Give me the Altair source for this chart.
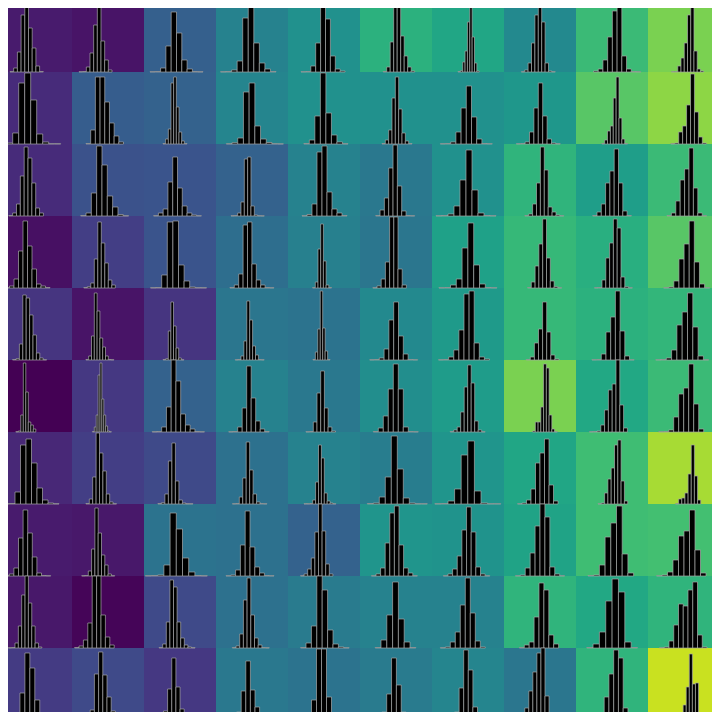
import altair as alt
import pandas as pd

# shared axis limits of every small panel (x in data units, y in count units)
XMIN, XMAX = 0.0, 72.0
YMAX = 72.0
NROWS, NCOLS = 10, 10
# the page keeps an 8px margin: the view shows the grid from 8/72 to 712/72 of a cell
GRID_START = 8.0 / 72.0
GRID_END = 712.0 / 72.0

# colour value of each panel (0..1 on viridis)
SHADE = [
    [0.07, 0.05, 0.30, 0.44, 0.50, 0.64, 0.59, 0.47, 0.68, 0.80],
    [0.12, 0.29, 0.31, 0.45, 0.50, 0.50, 0.50, 0.53, 0.74, 0.83],
    [0.12, 0.25, 0.26, 0.31, 0.44, 0.40, 0.50, 0.65, 0.56, 0.68],
    [0.04, 0.18, 0.26, 0.36, 0.43, 0.39, 0.57, 0.67, 0.63, 0.74],
    [0.15, 0.05, 0.15, 0.39, 0.38, 0.47, 0.54, 0.67, 0.64, 0.66],
    [0.00, 0.16, 0.31, 0.44, 0.40, 0.49, 0.55, 0.80, 0.60, 0.68],
    [0.11, 0.18, 0.22, 0.37, 0.44, 0.42, 0.52, 0.59, 0.69, 0.87],
    [0.07, 0.06, 0.38, 0.37, 0.31, 0.52, 0.51, 0.58, 0.69, 0.70],
    [0.06, 0.01, 0.22, 0.37, 0.41, 0.44, 0.44, 0.65, 0.60, 0.65],
    [0.17, 0.22, 0.16, 0.40, 0.38, 0.41, 0.45, 0.39, 0.65, 0.92],
]

# left edge of the first bin of each histogram
LO = [
    [10.0, 7.0, 6.0, 4.5, 13.0, 23.2, 26.0, 17.3, 17.5, 23.3],
    [0.7, 14.0, 19.0, 10.3, 15.8, 22.0, 8.3, 12.3, 25.8, 22.8],
    [8.8, 8.7, 9.6, 15.0, 14.0, 15.7, 4.0, 20.8, 16.7, 19.0],
    [5.0, 11.8, 6.5, 13.9, 24.6, 12.8, 6.9, 23.5, 18.4, 15.6],
    [12.6, 13.9, 19.1, 19.2, 24.9, 9.7, 6.5, 22.2, 15.9, 7.7],
    [15.8, 20.4, 8.2, 12.7, 17.9, 13.3, 18.2, 28.6, 13.4, 10.7],
    [4.0, 13.9, 13.9, 16.4, 16.0, 7.3, 2.8, 13.5, 22.0, 27.5],
    [4.7, 9.7, 1.3, 10.0, 12.5, 11.4, 11.3, 11.4, 12.0, 8.5],
    [8.3, 2.6, 15.1, 16.3, 12.6, 15.2, 8.3, 15.4, 10.7, 11.5],
    [5.1, 9.8, 7.0, 11.4, 8.5, 7.3, 8.7, 12.65, 13.95, 25.9],
]

# right edge of the last bin of each histogram
HI = [
    [43.3, 40.0, 59.0, 60.0, 57.1, 54.7, 47.2, 51.3, 64.7, 55.7],
    [60.7, 51.5, 43.0, 67.4, 60.0, 52.0, 60.3, 56.3, 51.6, 58.3],
    [43.4, 56.6, 57.4, 48.3, 59.0, 54.7, 64.0, 59.8, 55.4, 58.6],
    [50.0, 43.3, 62.5, 57.9, 43.5, 46.4, 64.9, 57.7, 56.4, 61.7],
    [46.6, 41.9, 39.9, 48.2, 42.05, 57.7, 57.5, 55.0, 58.2, 60.7],
    [35.8, 39.4, 60.45, 53.2, 47.5, 58.3, 53.2, 53.35, 51.4, 55.7],
    [59.0, 44.5, 48.9, 50.9, 47.9, 67.3, 68.8, 54.0, 51.7, 52.7],
    [50.7, 42.7, 63.3, 58.0, 44.9, 57.4, 57.8, 60.6, 57.6, 58.0],
    [41.8, 42.2, 51.1, 53.3, 61.2, 55.8, 53.3, 54.6, 61.5, 59.0],
    [54.6, 51.8, 48.5, 57.4, 53.5, 55.8, 54.7, 49.1, 56.7, 56.7],
]

# bin counts of each histogram, left to right
COUNTS = [
    [
        [0.4, 4, 20, 57, 70, 44, 24, 6, 0.5],
        [0.3, 0.5, 5, 19, 47, 65, 31, 12, 2],
        [0.3, 0.5, 4, 26, 60, 39, 12, 3, 0.5, 0.3],
        [0.3, 0.5, 2, 11, 54, 71, 29, 9, 3, 0.5],
        [0.3, 0.5, 6, 29, 75, 53, 16, 3, 1],
        [0.5, 5, 30, 67, 65, 36, 16, 5, 1],
        [0.5, 1.3, 10, 21, 50, 70, 35, 9, 1],
        [0.3, 2, 9, 29, 57, 71, 50, 9, 1, 0.3],
        [1, 3, 12, 35, 61, 76, 16, 3, 0.5, 0.3],
        [0.3, 0.5, 6, 14, 29, 57, 70, 21, 3, 1],
    ],
    [
        [0.3, 1, 11, 61, 71, 44, 10, 2, 0.3, 0.3],
        [0.5, 14, 67, 67, 42, 21, 8, 2],
        [0.5, 5, 15, 61, 67, 37, 12, 3, 0.5],
        [0.3, 1.3, 6, 52, 61, 18, 5, 1.5, 0.3, 0.2],
        [0.5, 4, 28, 71, 31, 9, 2, 0.3],
        [0.5, 4, 14, 46, 67, 35, 11, 3, 0.5],
        [0.3, 0.5, 2, 12, 36, 58, 27, 5, 0.5, 0.3],
        [0.3, 0.5, 2, 12, 36, 61, 28, 5, 1, 0.3],
        [0.5, 4, 13, 18, 46, 67, 26, 5, 0.5],
        [0.3, 1, 12, 18, 39, 70, 32, 7, 1],
    ],
    [
        [0.5, 3, 12, 40, 69, 58, 33, 8, 3],
        [0.5, 3, 23, 70, 51, 20, 9, 1.5, 0.3],
        [0.4, 3, 7, 34, 59, 28, 10, 3, 1, 0.3],
        [0.3, 0.5, 3, 14, 57, 59, 10, 1, 0.3, 0.2],
        [0.3, 1.5, 12, 64, 70, 24, 7, 3, 0.5],
        [0.5, 6, 18, 48, 71, 30, 5, 0.5, 0.3],
        [0.3, 0.5, 2, 10, 36, 66, 26, 3, 0.5, 0.3],
        [0.5, 2, 12, 33, 69, 46, 9, 4, 1, 0.3],
        [0.5, 4, 12, 33, 45, 67, 33, 5, 0.5],
        [0.5, 3, 15, 36, 47, 68, 28, 3, 0.3],
    ],
    [
        [0.3, 2, 9, 37, 67, 42, 19, 4, 2, 0.5],
        [0.5, 1.3, 5, 29, 66, 45, 25, 8, 3],
        [0.3, 0.5, 13, 66, 67, 23, 7, 1, 0.3, 0.3],
        [0.5, 3, 14, 63, 66, 24, 8, 3, 0.5, 0.3],
        [0.5, 6, 39, 64, 27, 3, 0.5],
        [0.3, 2, 9, 26, 71, 71, 19, 3],
        [0.3, 0.5, 3, 9, 40, 65, 23, 4, 0.5, 0.3],
        [0.5, 6, 22, 44, 69, 30, 7, 1.3, 0.3],
        [0.3, 0.5, 8, 30, 45, 69, 60, 11, 1.3, 0.3],
        [0.3, 1, 7, 29, 44, 67, 26, 4, 0.3],
    ],
    [
        [0.5, 1.3, 16, 65, 62, 45, 25, 7, 2, 0.3],
        [0.5, 4, 24, 67, 49, 22, 13, 4, 0.5, 0.3],
        [0.5, 1.3, 29, 58, 34, 12, 2, 0.3],
        [0.3, 0.5, 4, 19, 59, 40, 14, 5, 0.5, 0.3],
        [0.5, 8, 31, 69, 32, 9, 0.5],
        [0.3, 0.5, 2, 11, 40, 58, 24, 6, 0.5, 0.3],
        [0.3, 0.5, 3, 10, 30, 66, 69, 17, 3, 1],
        [0.5, 3, 17, 31, 58, 28, 5, 1],
        [0.3, 0.5, 6, 28, 43, 69, 29, 4, 0.3],
        [0.3, 0.5, 2, 10, 35, 48, 67, 33, 4, 0.3],
    ],
    [
        [0.3, 1, 17, 69, 40, 10, 7, 3],
        [0.5, 5, 17, 57, 69, 33, 17, 6, 1, 0.3],
        [0.3, 0.5, 5, 25, 73, 51, 18, 7, 3, 0.5, 0.3],
        [0.3, 0.5, 5, 24, 66, 34, 11, 3, 0.5],
        [0.3, 0.5, 10, 39, 61, 24, 5, 1],
        [0.5, 4, 16, 43, 68, 43, 5, 0.5, 0.3],
        [0.5, 2, 5, 20, 45, 67, 49, 11, 2, 0.3],
        [1, 10, 10, 25, 68, 64, 17, 3, 0.3],
        [0.3, 0.5, 1, 7, 22, 42, 48, 72, 27, 4],
        [0.3, 0.5, 2, 15, 38, 44, 68, 28, 3],
    ],
    [
        [0.3, 0.5, 12, 59, 65, 41, 16, 4, 1, 0.3],
        [0.5, 5, 27, 71, 51, 33, 10, 2, 0.3],
        [0.5, 1.3, 10, 43, 61, 23, 4, 1, 0.3, 0.3],
        [0.3, 0.5, 7, 26, 62, 34, 10, 2, 0.5, 0.3],
        [0.3, 0.3, 0.5, 4, 22, 59, 46, 11, 3, 1, 0.3],
        [0.5, 1, 7, 27, 68, 35, 6, 1, 0.3, 0.3],
        [0.3, 0.5, 3, 15, 49, 63, 13, 1, 0.3, 0.3],
        [0.3, 1, 4, 15, 41, 51, 65, 19, 3],
        [0.3, 1, 11, 25, 36, 59, 64, 23, 3],
        [0.3, 5, 6, 11, 30, 59, 28, 4],
    ],
    [
        [0.3, 2, 8, 38, 66, 43, 19, 3, 0.5, 0.3],
        [0.3, 0.5, 5, 27, 68, 43, 21, 11, 2, 0.3],
        [0.3, 0.5, 1, 11, 63, 47, 18, 4, 0.5, 0.3],
        [0.3, 1, 6, 31, 65, 29, 9, 3, 0.5, 0.3],
        [0.3, 2, 7, 18, 44, 76, 45, 12, 2],
        [0.3, 2, 8, 33, 63, 70, 31, 8, 3, 0.3],
        [0.3, 2, 7, 20, 46, 69, 44, 9, 2, 0.3],
        [0.3, 1, 8, 23, 50, 72, 59, 9, 2, 0.3],
        [0.5, 1, 11, 39, 53, 70, 22, 3],
        [0.3, 1, 4, 16, 40, 45, 66, 26, 3],
    ],
    [
        [0.3, 0.5, 5, 22, 53, 72, 45, 22, 5, 1],
        [0.5, 2, 8, 25, 78, 76, 33, 11, 3],
        [0.5, 4, 26, 68, 61, 26, 10, 3, 1, 0.3],
        [0.5, 2, 14, 48, 70, 33, 10, 3, 0.5, 0.3],
        [0.5, 5, 22, 74, 58, 18, 4, 1, 0.3],
        [0.5, 8, 33, 66, 29, 6, 0.5],
        [0.3, 1, 6, 16, 43, 70, 35, 7, 1],
        [0.5, 3, 6, 31, 65, 58, 13, 4],
        [0.5, 4, 16, 47, 69, 56, 6, 0.5],
        [0.3, 1, 7, 23, 44, 42, 58, 66, 13, 1],
    ],
    [
        [0.3, 2, 6, 27, 67, 52, 20, 5, 1, 0.3],
        [0.3, 2, 10, 46, 68, 45, 23, 9, 3, 0.5],
        [0.3, 0.5, 1, 9, 31, 62, 33, 11, 3, 0.5],
        [0.3, 4, 8, 29, 59, 30, 13, 4, 1, 0.3],
        [0.5, 2, 7, 20, 71, 71, 23, 5, 1],
        [0.3, 0.5, 2, 8, 26, 62, 35, 8, 2, 0.5],
        [0.3, 1, 3, 8, 32, 70, 50, 13, 3, 1],
        [0.3, 3, 12, 29, 48, 67, 74, 24, 2],
        [0.3, 1, 6, 23, 46, 70, 62, 12, 2],
        [0.3, 3, 6, 15, 33, 66, 36, 37, 6, 2],
    ],
]

panels = []
bins = []
for r in range(NROWS):
    for c in range(NCOLS):
        panels.append({"row": r, "col": c, "shade": SHADE[r][c]})
        counts = COUNTS[r][c]
        width = (HI[r][c] - LO[r][c]) / len(counts)
        for k, v in enumerate(counts):
            bins.append({
                "row": r, "col": c,
                "left": LO[r][c] + k * width,
                "right": LO[r][c] + (k + 1) * width,
                "count": v,
            })

panel_df = pd.DataFrame(panels)
bin_df = pd.DataFrame(bins)

xscale = alt.Scale(domain=[GRID_START, GRID_END], nice=False, zero=False)
yscale = alt.Scale(domain=[GRID_START, GRID_END], nice=False, zero=False, reverse=True)

background = alt.Chart(panel_df).transform_calculate(
    gx="datum.col", gx2="datum.col + 1", gy="datum.row", gy2="datum.row + 1"
).mark_rect(strokeWidth=0, clip=True).encode(
    x=alt.X("gx:Q", scale=xscale, axis=None),
    x2="gx2:Q",
    y=alt.Y("gy:Q", scale=yscale, axis=None),
    y2="gy2:Q",
    color=alt.Color("shade:Q", scale=alt.Scale(scheme="viridis", domain=[0, 1]), legend=None),
)

span = XMAX - XMIN
bars = alt.Chart(bin_df).transform_calculate(
    gx=f"datum.col + (datum.left - {XMIN}) / {span}",
    gx2=f"datum.col + (datum.right - {XMIN}) / {span}",
    gy=f"datum.row + 1 - min(datum.count, {YMAX}) / {YMAX}",
    gy2="datum.row + 1",
).mark_rect(fill="black", stroke="#a8a8a8", strokeWidth=0.7, clip=True).encode(
    x=alt.X("gx:Q", scale=xscale, axis=None),
    x2="gx2:Q",
    y=alt.Y("gy:Q", scale=yscale, axis=None),
    y2="gy2:Q",
)

chart = alt.layer(background, bars).properties(
    width=704, height=704, padding=0
).configure_view(stroke=None)

chart.save("out.html", embed_options={"renderer": "svg", "actions": False})
